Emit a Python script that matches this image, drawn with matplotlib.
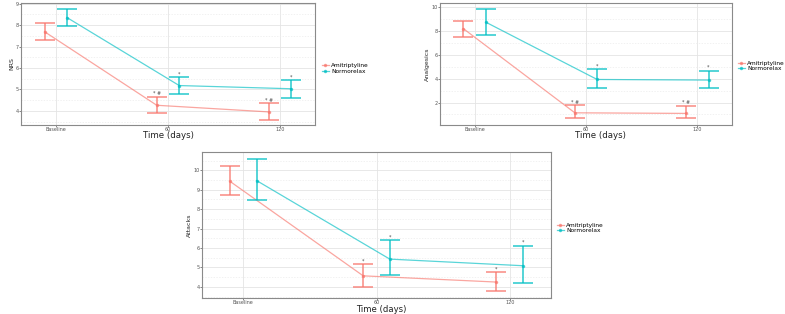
import matplotlib
matplotlib.use("Agg")
import matplotlib.pyplot as plt
from matplotlib.ticker import MultipleLocator
import numpy as np

time_labels = ["Baseline", "60", "120"]
groups = ["Amitriptyline", "Normorelax"]

# Panel 1: NRS
nrs_ami = [7.69, 4.26, 3.95]
nrs_ami_lo = [7.31, 3.88, 3.57]
nrs_ami_hi = [8.08, 4.66, 4.35]
nrs_nor = [8.35, 5.18, 5.03]
nrs_nor_lo = [7.95, 4.80, 4.62]
nrs_nor_hi = [8.74, 5.57, 5.43]

# Panel 2: Analgesics
ana_ami = [8.18, 1.14, 1.09]
ana_ami_lo = [7.52, 0.74, 0.67]
ana_ami_hi = [8.81, 1.77, 1.72]
ana_nor = [8.73, 3.93, 3.88]
ana_nor_lo = [7.66, 3.24, 3.21]
ana_nor_hi = [9.86, 4.77, 4.68]

# Panel 3: Attacks
att_ami = [9.43, 4.57, 4.25]
att_ami_lo = [8.71, 3.98, 3.77]
att_ami_hi = [10.20, 5.19, 4.76]
att_nor = [9.47, 5.43, 5.09]
att_nor_lo = [8.45, 4.59, 4.21]
att_nor_hi = [10.58, 6.42, 6.12]

ami_marks = ["", "* #", "* #"]
nor_marks = ["", "*", "*"]
ami_marks3 = ["", "*", "*"]

RED = "#F8766D"
CYAN = "#00BFC4"
W, H = 785, 314

fig = plt.figure(figsize=(W / 100, H / 100), dpi=100)
fig.patch.set_facecolor("white")


def make_ax(l, r, t, b):
    return fig.add_axes([l / W, 1 - b / H, (r - l) / W, (b - t) / H])


def draw(ax, series, ylim, major, minor, ylabel, legend_pos, xlabel_pos, xlabel_fs):
    x = np.arange(len(time_labels))
    offs = [-0.1, 0.1]
    cols = [RED, CYAN]
    handles = []
    for (vals, lo, hi, marks), off, col, name in zip(series, offs, cols, groups):
        xs = x + off
        vals = np.array(vals)
        lo = np.array(lo)
        hi = np.array(hi)
        h, = ax.plot(xs, vals, color=col, lw=0.9, alpha=0.65, marker="o", ms=1.5,
                     zorder=3, label=name)
        ax.errorbar(xs, vals, yerr=[vals - lo, hi - vals], fmt="none",
                    ecolor=col, elinewidth=1.1, capsize=7, capthick=1.1, alpha=0.85, zorder=3)
        handles.append(h)
        for xi, hv, m in zip(xs, hi, marks):
            if m:
                ax.annotate(m, (xi, hv), xytext=(0, 0.5), textcoords="offset points",
                            ha="center", va="bottom", fontsize=3.5, color="#444444")
    ax.set_xlim(-0.31, 2.31)
    ax.set_ylim(*ylim)
    ax.set_xticks(x)
    ax.set_xticklabels(time_labels)
    ax.yaxis.set_major_locator(MultipleLocator(major))
    ax.yaxis.set_minor_locator(MultipleLocator(minor))
    ax.set_xticks([], minor=True)
    ax.grid(which="major", color="#e4e4e4", lw=0.6)
    ax.grid(which="minor", axis="y", color="#ececec", lw=0.5, ls=(0, (2, 2)))
    ax.set_axisbelow(True)
    for s in ax.spines.values():
        s.set_color("#8a8a8a")
        s.set_linewidth(0.8)
    ax.tick_params(axis="both", which="major", labelsize=3.5, length=1.2, width=0.5,
                   colors="#555555", pad=0.3)
    ax.tick_params(axis="y", which="minor", length=0)
    ax.set_ylabel(ylabel, fontsize=4.5, labelpad=1, color="#222222")
    fig.text(xlabel_pos[0] / W, 1 - xlabel_pos[1] / H, "Time (days)",
             fontsize=xlabel_fs, ha="center", va="center", color="#222222")
    fig.legend(handles=handles, labels=groups, loc="center left",
               bbox_to_anchor=(legend_pos[0] / W, 1 - legend_pos[1] / H),
               frameon=False, fontsize=4.2, handlelength=1.2, handletextpad=0.4,
               labelspacing=0.1, borderpad=0)


ax1 = make_ax(21, 315, 3, 125)
draw(ax1, [(nrs_ami, nrs_ami_lo, nrs_ami_hi, ami_marks),
           (nrs_nor, nrs_nor_lo, nrs_nor_hi, nor_marks)],
     (3.34, 9.03), 1, 0.5, "NRS", (319, 68.5), (168, 135.5), 6.2)

ax2 = make_ax(440, 732, 3, 125)
draw(ax2, [(ana_ami, ana_ami_lo, ana_ami_hi, ami_marks),
           (ana_nor, ana_nor_lo, ana_nor_hi, nor_marks)],
     (0.12, 10.33), 2, 1, "Analgesics", (735, 66), (600, 135.5), 6.2)

ax3 = make_ax(202, 551, 152, 298)
draw(ax3, [(att_ami, att_ami_lo, att_ami_hi, ami_marks3),
           (att_nor, att_nor_lo, att_nor_hi, nor_marks)],
     (3.43, 10.94), 1, 0.5, "Attacks", (554, 228), (381, 309), 6.1)

fig.savefig("out.png", dpi=100, facecolor="white")
